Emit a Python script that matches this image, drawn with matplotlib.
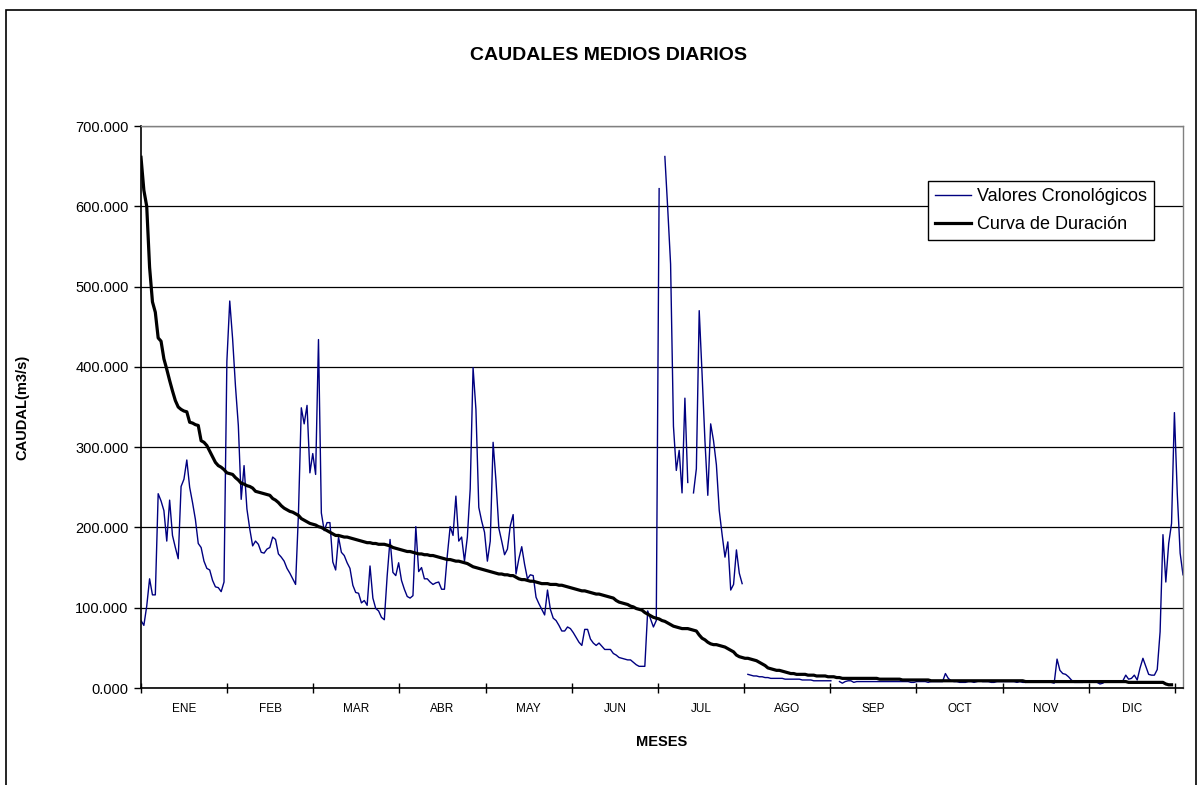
import numpy as np
import matplotlib
matplotlib.use("Agg")
import matplotlib.pyplot as plt
from matplotlib.patches import Rectangle
from matplotlib.ticker import FixedLocator, FuncFormatter

plt.rcParams['font.family'] = ['Liberation Sans', 'DejaVu Sans']

nan = float('nan')

meses = ["ENE", "FEB", "MAR", "ABR", "MAY", "JUN",
         "JUL", "AGO", "SEP", "OCT", "NOV", "DIC"]

# caudales diarios en orden cronologico (m3/s), dias 0..364
cron_ene_feb = [
    84, 78, 102, 136, 116, 116, 242, 233, 221, 183,
    234, 190, 175, 161, 251, 260, 284, 250, 231, 210,
    180, 175, 158, 149, 147, 134, 126, 125, 120, 132,
    407, 482, 435, 376, 327, 235, 277, 223, 198, 177,
    183, 179, 169, 168, 173, 175, 188, 185, 167, 163,
    158, 149, 143, 136, 129, 217, 349, 329, 352, 268,
    292, 266,
]
cron_mar_abr = [
    434, 218, 196, 206, 206, 157, 147, 188, 169, 165,
    156, 149, 128, 119, 118, 106, 109, 103, 152, 112,
    99, 96, 88, 85, 140, 185, 144, 140, 156, 134,
    123, 114, 112, 115, 201, 145, 150, 136, 136, 132,
    129, 131, 132, 123, 123, 165, 201, 190, 239, 183,
    188, 158, 188, 248, 399, 347, 225, 208, 194, 158,
]
cron_may_jun = [
    183, 306, 258, 199, 183, 166, 173, 202, 216, 142,
    161, 176, 154, 136, 141, 140, 113, 105, 98, 91,
    122, 98, 87, 84, 78, 71, 71, 76, 74, 69,
    63, 57, 53, 73, 73, 61, 56, 53, 56, 52,
    48, 48, 48, 43, 41, 38, 37, 36, 35, 35,
    32, 29, 27, 27, 27, 96, 86, 76, 84, 622,
]
cron_jul_ago = [
    nan, 662, 597, 528, 326, 271, 296, 243, 361, 256,
    nan, 243, 273, 470, 391, 308, 240, 329, 308, 278,
    221, 191, 163, 182, 122, 129, 172, 143, 130, nan,
    17, 16, 15, 15, 14, 14, 13, 13, 12, 12,
    12, 12, 12, 11, 11, 11, 11, 11, 11, 10,
    10, 10, 10, 9, 9, 9, 9, 9, 9, 9,
]
cron_sep_oct = [
    nan, nan, 8, 6, 8, 9, 9, 7, 8, 8,
    8, 8, 8, 8, 8, 8, 8, 8, 8, 8,
    8, 8, 8, 8, 8, 8, 8, 7, 7, 8,
    8, 8, 8, 7, 8, 8, 8, 8, 8, 18,
    12, 9, 8, 8, 7, 7, 7, 8, 8, 7,
    8, 9, 8, 8, 8, 7, 7, 8, 8, 8,
]
cron_nov_dic = [
    8, 8, 8, 8, 7, 8, 7, 7, 8, 8,
    8, 8, 8, 8, 8, 8, 7, 6, 36, 22,
    18, 17, 14, 10, 7, 7, 7, 7, 8, 9,
    9, 9, 7, 5, 6, 9, 9, 9, 9, 9,
    8, 9, 16, 11, 12, 16, 10, 25, 37, 27,
    17, 16, 16, 23, 70, 191, 132, 180, 205, 343,
    242, 168, 141,
]

# curva de duracion (m3/s)
dur_alta = [
    661, 620, 600, 524, 481, 468, 436, 432, 410, 397,
    383, 370, 358, 350, 347, 345, 344, 331, 330, 328,
    327, 308, 306, 302, 295, 288, 281, 277, 275, 272,
    268, 267, 266, 262, 259, 255, 254, 252, 251, 249,
    245, 244, 243, 242, 241, 240, 236, 234, 231, 227,
    224, 222, 220, 219, 217, 215, 211, 209, 207, 205,
    204, 203, 201, 200, 198, 196, 194, 192, 190, 190,
    189, 188, 188, 187, 186, 185, 184, 183, 182, 181,
    181, 180, 180, 179, 179, 179, 178, 177, 175, 174,
    173, 172, 171, 170, 170, 169, 168, 167, 167, 166,
    166, 165, 165, 164, 163, 162, 161, 160, 160, 159,
    158, 158, 157, 156, 155, 153, 151, 150, 149, 148,
]
dur_media = [
    147, 146, 145, 144, 143, 142, 142, 141, 141, 140,
    140, 138, 136, 135, 135, 134, 133, 133, 132, 131,
    130, 130, 130, 129, 129, 129, 128, 128, 127, 126,
    125, 124, 123, 122, 121, 121, 120, 119, 118, 117,
    117, 116, 115, 114, 113, 112, 109, 107, 106, 105,
    104, 102, 101, 99, 98, 97, 94, 92, 90, 88,
    87, 86, 84, 83, 81, 79, 77, 76, 75, 74,
    74, 74, 73, 72, 71, 66, 62, 60, 57, 55,
    54, 54, 53, 52, 51, 49, 47, 45, 41, 39,
    38, 37, 37, 36, 35, 34, 32, 30, 28, 25,
    24, 23, 22, 22, 21, 20, 19, 18, 18, 17,
    17, 17, 17, 16, 16, 16, 15, 15, 15, 15,
]
dur_baja = [
    14, 14, 14, 13, 13, 12, 12, 12, 12, 12,
    12, 12, 12, 12, 12, 12, 12, 12, 11, 11,
    11, 11, 11, 11, 11, 11, 10, 10, 10, 10,
    10, 10, 10, 10, 10, 10, 9, 9, 9, 9,
    9, 9, 9, 9, 9, 9, 9, 9, 9, 9,
    9, 9, 9, 9, 9, 9, 9, 9, 9, 9,
    9, 9, 9, 9, 9, 9, 9, 9, 9, 8,
    8, 8, 8, 8, 8, 8, 8, 8, 8, 8,
    8, 8, 8, 8, 8, 8, 8, 8, 8, 8,
    8, 8, 8, 8, 8, 8, 8, 8, 8, 8,
    8, 8, 8, 8, 8, 7, 7, 7, 7, 7,
    7, 7, 7, 7, 7, 7, 7, 7, 5, 4,
    4,
]

cronologico = np.array(cron_ene_feb + cron_mar_abr + cron_may_jun
                       + cron_jul_ago + cron_sep_oct + cron_nov_dic, dtype=float)
duracion = np.array(dur_alta + dur_media + dur_baja, dtype=float)

W, H = 1198, 785
fig = plt.figure(figsize=(W / 100, H / 100), dpi=100)

# marco exterior del grafico
fig.patches.append(Rectangle((6 / W, -0.05), 1190 / W, 1.05 - 10 / H,
                             transform=fig.transFigure, fill=False,
                             edgecolor="black", linewidth=1.2))

ax = fig.add_axes([141 / W, 1 - 688 / H, 1042 / W, 562 / H])

dias_c = np.arange(len(cronologico))
dias_d = np.arange(len(duracion))
ax.plot(dias_c, cronologico, color="#000080", linewidth=1.0,
        label="Valores Cronológicos")
ax.plot(dias_d, duracion, color="black", linewidth=2.3,
        label="Curva de Duración")

ax.set_xlim(0, 364)
ax.set_ylim(0, 700)

ax.set_yticks(np.arange(0, 701, 100))
ax.yaxis.set_major_formatter(FuncFormatter(lambda v, p: f"{v:.3f}"))
ax.yaxis.grid(True, color="black", linewidth=0.9)
ax.set_axisbelow(True)

bordes = np.arange(13) * 30.1
ax.xaxis.set_major_locator(FixedLocator(bordes))
ax.xaxis.set_minor_locator(FixedLocator(bordes[:-1] + 15.05))
ax.set_xticklabels([""] * 13)
ax.set_xticklabels(meses, minor=True)
ax.tick_params(axis="x", which="major", direction="inout", length=7,
               width=1.0, color="black")
ax.tick_params(axis="x", which="minor", length=0, pad=11, labelsize=8.5)
ax.tick_params(axis="y", direction="out", length=5, width=1.0,
               labelsize=10.5, pad=4)

for s in ("top", "right"):
    ax.spines[s].set_color("#808080")
    ax.spines[s].set_linewidth(1.0)
for s in ("left", "bottom"):
    ax.spines[s].set_color("black")
    ax.spines[s].set_linewidth(1.2)

ax.set_xlabel("MESES", fontsize=10.5, fontweight="bold")
ax.xaxis.set_label_coords(0.5, -0.083)
ax.set_ylabel("CAUDAL(m3/s)", fontsize=10.5, fontweight="bold")
ax.yaxis.set_label_coords(-0.1075, 0.5)

fig.text(608 / W, 1 - 55 / H, "CAUDALES MEDIOS DIARIOS", ha="center",
         va="center", fontsize=14, fontweight="bold")

leg = ax.legend(loc="upper left", bbox_to_anchor=(0.7553, 0.902),
                borderaxespad=0, frameon=True, fancybox=False,
                edgecolor="black", framealpha=1, fontsize=13,
                handlelength=2.0, handletextpad=0.3, labelspacing=0.6,
                borderpad=0.4)
leg.get_frame().set_linewidth(1.0)

fig.savefig("out.png", dpi=100)
